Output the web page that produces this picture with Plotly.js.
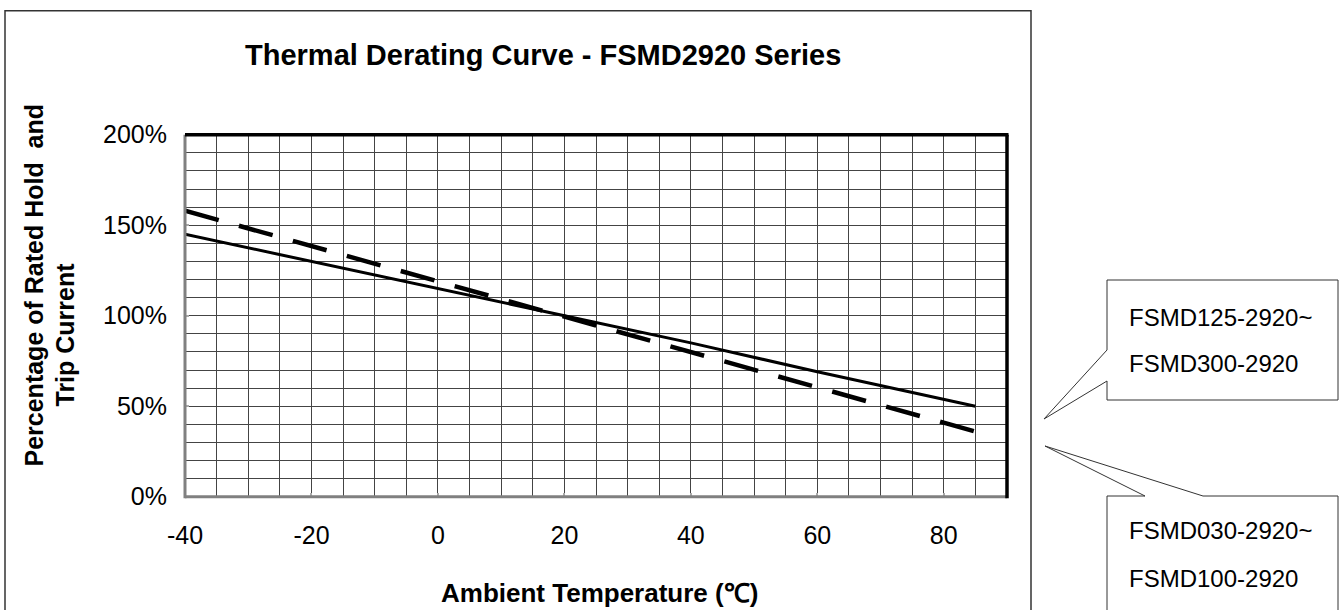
<!DOCTYPE html>
<html><head><meta charset="utf-8">
<script src="https://cdn.plot.ly/plotly-3.0.1.min.js"></script>
<style>html,body{margin:0;padding:0;background:#fff}#chart{width:1342px;height:610px}</style>
</head><body><div id="chart"></div>
<script>
// ---- data ----
const temperatures = [-40, -20, 0, 20, 40, 60, 85];
const ratingHigh = [145, 130, 115, 100, 85, 69, 50];      // FSMD125~FSMD300 (solid)
const ratingLow  = [158, 138.5, 119, 100, 80, 60.5, 36];  // FSMD030~FSMD100 (dashed)
const xTicks = [-40, -20, 0, 20, 40, 60, 80];
const yTicks = [0, 50, 100, 150, 200];
const yTickLabels = ['0%', '50%', '100%', '150%', '200%'];
const labelHigh = ['FSMD125-2920~', 'FSMD300-2920'];
const labelLow  = ['FSMD030-2920~', 'FSMD100-2920'];
const chartTitle = 'Thermal Derating Curve - FSMD2920 Series';
const xTitle = 'Ambient Temperature (℃)';
const yTitle1 = 'Percentage of Rated Hold\u00a0 and';
const yTitle2 = 'Trip Current';

// ---- layout helpers (pixel -> paper) ----
const W = 1342, H = 610;
const px = x => x / W, py = y => 1 - y / H;
const P = (x, y) => px(x) + ',' + py(y);
const FONT = '"Liberation Sans", Arial, sans-serif';

const L = 185, R = 1007, T = 134.7, B = 496.7;

const traces = [
  {x: temperatures, y: ratingHigh, type: 'scatter', mode: 'lines',
   line: {color: '#000', width: 3}, hoverinfo: 'x+y', showlegend: false},
  {x: temperatures, y: ratingLow, type: 'scatter', mode: 'lines',
   line: {color: '#000', width: 4.5, dash: '35px,21px'}, hoverinfo: 'x+y', showlegend: false}
];

const shapes = [
  // outer chart frame
  {type: 'path', xref: 'paper', yref: 'paper',
   path: 'M' + P(5, 10.7) + 'L' + P(1031, 10.7) + 'L' + P(1031, 630) + 'L' + P(5, 630) + 'Z',
   line: {color: '#333', width: 1.5}},
  // plot border: left & bottom gray, top & right black
  {type: 'line', xref: 'paper', yref: 'paper', x0: px(L), x1: px(L), y0: py(B + 1.5), y1: py(T),
   line: {color: '#808080', width: 3}, layer: 'above'},
  {type: 'line', xref: 'paper', yref: 'paper', x0: px(L), x1: px(R), y0: py(B), y1: py(B),
   line: {color: '#808080', width: 3}, layer: 'above'},
  {type: 'line', xref: 'paper', yref: 'paper', x0: px(L), x1: px(R + 1.5), y0: py(T), y1: py(T),
   line: {color: '#000', width: 3.5}, layer: 'above'},
  {type: 'line', xref: 'paper', yref: 'paper', x0: px(R), x1: px(R), y0: py(T), y1: py(B + 1.5),
   line: {color: '#000', width: 3.5}, layer: 'above'},
  // callout 1
  {type: 'path', xref: 'paper', yref: 'paper',
   path: 'M' + P(1107, 280) + 'L' + P(1107, 350) + 'L' + P(1044, 419) + 'L' + P(1107, 381) +
         'L' + P(1107, 400) + 'L' + P(1338, 400) + 'L' + P(1338, 280) + 'Z',
   line: {color: '#333', width: 1}, fillcolor: '#fff'},
  // callout 2
  {type: 'path', xref: 'paper', yref: 'paper',
   path: 'M' + P(1107, 496) + 'L' + P(1145, 496) + 'L' + P(1045, 446) + 'L' + P(1203, 496) +
         'L' + P(1338, 496) + 'L' + P(1338, 640) + 'L' + P(1107, 640) + 'Z',
   line: {color: '#333', width: 1}, fillcolor: '#fff'}
];

const ann = (text, x, y, opts) => Object.assign({
  text: text, xref: 'paper', yref: 'paper', x: px(x), y: py(y),
  showarrow: false, xanchor: 'center', yanchor: 'middle',
  font: {family: FONT, size: 24, color: '#000'}
}, opts || {});

const annotations = [
  ann('<b>' + chartTitle + '</b>', 243, 55, {xanchor: 'left', font: {family: FONT, size: 29, color: '#000'}}),
  ann('<b>' + xTitle + '</b>', 599, 593, {font: {family: FONT, size: 26, color: '#000'}}),
  ann('<b>' + yTitle1 + '</b>', 33.5, 285, {textangle: -90, font: {family: FONT, size: 25, color: '#000'}}),
  ann('<b>' + yTitle2 + '</b>', 64.5, 335, {textangle: -90, font: {family: FONT, size: 25, color: '#000'}}),
  ann(labelHigh[0], 1127, 317, {xanchor: 'left'}),
  ann(labelHigh[1], 1127, 363, {xanchor: 'left'}),
  ann(labelLow[0], 1127, 530, {xanchor: 'left'}),
  ann(labelLow[1], 1127, 578, {xanchor: 'left'})
];

const layout = {
  width: W, height: H,
  margin: {l: 0, r: 0, t: 0, b: 0, pad: 0},
  paper_bgcolor: '#fff', plot_bgcolor: '#fff',
  showlegend: false,
  xaxis: {
    domain: [px(L), px(R)], range: [-40, 90],
    tickmode: 'array', tickvals: xTicks, ticktext: xTicks.map(String),
    showgrid: true, gridcolor: '#444', gridwidth: 1,
    minor: {dtick: 5, tick0: -40, showgrid: true, gridcolor: '#444', gridwidth: 1},
    zeroline: false, showline: false,
    ticks: 'inside', ticklen: 4, tickcolor: '#aaa', tickwidth: 2,
    ticklabelstandoff: 21,
    tickfont: {family: FONT, size: 25, color: '#000'}, fixedrange: true
  },
  yaxis: {
    domain: [py(B), py(T)], range: [0, 200],
    tickmode: 'array', tickvals: yTicks, ticktext: yTickLabels,
    showgrid: true, gridcolor: '#444', gridwidth: 1,
    minor: {dtick: 10, tick0: 0, showgrid: true, gridcolor: '#444', gridwidth: 1},
    zeroline: false, showline: false,
    ticks: 'inside', ticklen: 4, tickcolor: '#aaa', tickwidth: 2,
    ticklabelstandoff: 17,
    tickfont: {family: FONT, size: 25, color: '#000'}, fixedrange: true
  },
  shapes: shapes,
  annotations: annotations
};

Plotly.newPlot('chart', traces, layout, {displayModeBar: false, staticPlot: true});
</script></body></html>
